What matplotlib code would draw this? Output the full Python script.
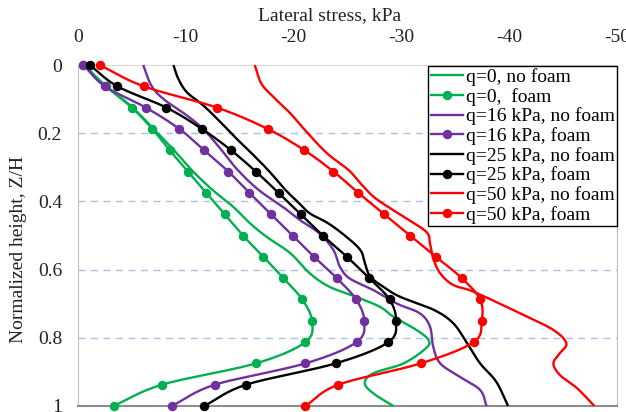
import numpy as np
import matplotlib
matplotlib.use('Agg')
import matplotlib.pyplot as plt
from matplotlib.lines import Line2D

plt.rcParams['font.family'] = ['Liberation Serif', 'DejaVu Serif']

# ---------------- data ----------------
z_foam = [0, 0.0625, 0.125, 0.1875, 0.25, 0.3125, 0.375, 0.4375, 0.5,
          0.5625, 0.625, 0.6875, 0.75, 0.8125, 0.875, 0.9375, 1.0]

q0_foam = [-0.5, -2.6, -5.0, -6.9, -8.5, -10.2, -11.9, -13.6, -15.3, -17.2,
           -19.05, -20.8, -21.7, -21.1, -16.5, -7.8, -3.3]
q16_foam = [-0.5, -2.5, -6.3, -9.4, -11.7, -13.95, -15.9, -17.9, -19.9, -21.9,
            -24.0, -25.8, -26.55, -25.85, -21.1, -12.7, -8.7]
q25_foam = [-1.1, -3.65, -8.2, -11.5, -14.2, -16.5, -18.6, -20.65, -22.7, -24.95,
            -27.0, -28.9, -29.5, -28.8, -23.9, -15.6, -11.7]
q50_foam = [-2.0, -6.1, -12.9, -17.6, -21.0, -23.7, -26.0, -28.4, -30.8, -33.2,
            -35.6, -37.3, -37.45, -36.7, -31.8, -24.15, -21.1]

z_q0_nf = [0, 0.06, 0.12, 0.19, 0.25, 0.31, 0.367, 0.416, 0.464, 0.504, 0.552,
           0.611, 0.65, 0.68, 0.709, 0.738, 0.777, 0.806, 0.83, 0.875, 0.904,
           0.933, 0.963, 1.0]
q0_nofoam = [-0.6, -2.5, -4.9, -7.1, -8.9, -10.6, -12.5, -14.4, -15.95, -17.5,
             -19.7, -21.5, -23.3, -25.8, -28.0, -29.25, -31.4, -32.5, -32.3,
             -30.2, -27.4, -26.6, -27.4, -29.25]

z_q16_nf = [0, 0.06, 0.099, 0.148, 0.187, 0.245, 0.304, 0.365, 0.416, 0.455,
            0.494, 0.543, 0.592, 0.626, 0.66, 0.7, 0.728, 0.767, 0.826, 0.875,
            0.914, 0.953, 1.0]
q16_nofoam = [-6.05, -6.8, -7.9, -10.1, -11.6, -13.2, -14.7, -16.7, -19.0, -20.6,
              -22.4, -23.7, -24.3, -25.2, -27.4, -29.6, -31.7, -32.65, -32.95,
              -33.6, -35.4, -37.3, -37.9]

z_q25_nf = [0, 0.04, 0.08, 0.118, 0.167, 0.216, 0.265, 0.314, 0.365, 0.402,
            0.435, 0.464, 0.504, 0.543, 0.58, 0.62, 0.65, 0.68, 0.718, 0.757,
            0.816, 0.875, 0.929, 1.0]
q25_nofoam = [-8.85, -9.3, -10.1, -11.6, -13.2, -14.7, -16.3, -17.8, -19.2, -20.4,
              -21.5, -23.2, -24.9, -26.2, -26.6, -27.1, -28.3, -29.9, -33.0,
              -34.8, -36.1, -37.3, -38.8, -39.9]

z_q50_nf = [0, 0.054, 0.093, 0.142, 0.196, 0.259, 0.308, 0.347, 0.391, 0.445,
            0.489, 0.523, 0.567, 0.611, 0.645, 0.665, 0.728, 0.777, 0.816, 0.845,
            0.875, 0.909, 0.948, 1.0]
q50_nofoam = [-16.4, -17.0, -18.1, -19.7, -21.2, -23.1, -25.1, -26.2, -27.6, -30.2,
              -32.3, -32.65, -32.95, -33.6, -34.8, -36.7, -41.0, -44.1, -45.3,
              -44.7, -44.1, -44.7, -46.3, -47.9]

labels = ['q=0, no foam', 'q=0,  foam', 'q=16 kPa, no foam', 'q=16 kPa, foam',
          'q=25 kPa, no foam', 'q=25 kPa, foam', 'q=50 kPa, no foam', 'q=50 kPa, foam']
colors = ['#00b050', '#7030a0', '#000000', '#ff0000']

x_ticks = [0, -10, -20, -30, -40, -50]
x_ticklabels = ['0', '-10', '-20', '-30', '-40', '-50']
y_ticks = [0, 0.2, 0.4, 0.6, 0.8, 1.0]
y_ticklabels = ['0', '0.2', '0.4', '0.6', '0.8', '1']


def smooth(xs, zs, n=16):
    """Catmull-Rom rendering of a curve through the given points."""
    sx, sz = 10.78, 341.0
    P = np.column_stack([np.asarray(xs) * sx, np.asarray(zs) * sz])
    P = np.vstack([2 * P[0] - P[1], P, 2 * P[-1] - P[-2]])
    t = np.linspace(0, 1, n, endpoint=False)[:, None]
    out = []
    for i in range(1, len(P) - 2):
        p0, p1, p2, p3 = P[i - 1], P[i], P[i + 1], P[i + 2]
        seg = 0.5 * (2 * p1 + (-p0 + p2) * t + (2 * p0 - 5 * p1 + 4 * p2 - p3) * t ** 2
                     + (-p0 + 3 * p1 - 3 * p2 + p3) * t ** 3)
        out.append(seg)
    out.append(P[-2][None, :])
    out = np.vstack(out)
    return out[:, 0] / sx, out[:, 1] / sz


FS = 14
fig = plt.figure(figsize=(6.26, 4.12), dpi=100)
ax = fig.add_axes([78 / 626, 1 - 406 / 412, (617 - 78) / 626, (406 - 65) / 412])

for zz in [0.2, 0.4, 0.6, 0.8]:
    ax.axhline(zz, color='#a9c0ea', lw=1.0, ls=(0, (5, 4)), zorder=1)

series = [
    (z_q0_nf, q0_nofoam, q0_foam, colors[0]),
    (z_q16_nf, q16_nofoam, q16_foam, colors[1]),
    (z_q25_nf, q25_nofoam, q25_foam, colors[2]),
    (z_q50_nf, q50_nofoam, q50_foam, colors[3]),
]
lw = 1.7
ms = 5.8
zo = 3
for znf, nf, fo, c in series:
    sx, sz = smooth(nf, znf)
    ax.plot(sx, sz, color=c, lw=lw, zorder=zo, clip_on=False, solid_capstyle='butt')
    zo += 1
    fx, fz = smooth(fo, z_foam)
    ax.plot(fx, fz, color=c, lw=lw, zorder=zo, clip_on=False, solid_capstyle='butt')
    ax.plot(fo, z_foam, 'o', color=c, ms=ms, zorder=zo, clip_on=False)
    zo += 1

ax.set_xlim(0, -50)
ax.set_ylim(1, 0)
ax.xaxis.tick_top()
ax.set_xticks(x_ticks)
ax.set_xticklabels(x_ticklabels)
ax.set_yticks(y_ticks)
ax.set_yticklabels(y_ticklabels)
ax.tick_params(axis='x', length=0, pad=13.5, labelsize=FS, colors='#222222')
ax.tick_params(axis='y', length=0, pad=11.5, labelsize=FS, colors='#222222')

for s in ['left', 'right']:
    ax.spines[s].set_color('#bfbfbf')
ax.spines['top'].set_color('#d9d9d9')
ax.spines['bottom'].set_color('#8c8c8c')
ax.spines['bottom'].set_linewidth(1.5)

fig.text(330 / 626, 1 - 16 / 412, 'Lateral stress, kPa', ha='center', va='center',
         fontsize=FS, color='#222222')
fig.text(19 / 626, 1 - 249 / 412, 'Normalized height, Z/H', ha='center', va='center',
         rotation=90, fontsize=FS, color='#222222')

handles = []
for i, c in enumerate(colors):
    handles.append(Line2D([], [], color=c, lw=lw))
    handles.append(Line2D([], [], color=c, lw=lw, marker='o', ms=ms))
leg = ax.legend(handles, labels, loc='upper right',
                bbox_to_anchor=(617 / 626, 1 - 66 / 412), bbox_transform=fig.transFigure,
                borderaxespad=0, fancybox=False, framealpha=1, edgecolor='black',
                fontsize=FS, handlelength=1.65, handletextpad=0.15, labelspacing=0.09,
                borderpad=0.12)
leg.get_frame().set_linewidth(1.0)
leg.set_zorder(20)

fig.savefig('out.png', dpi=100)
